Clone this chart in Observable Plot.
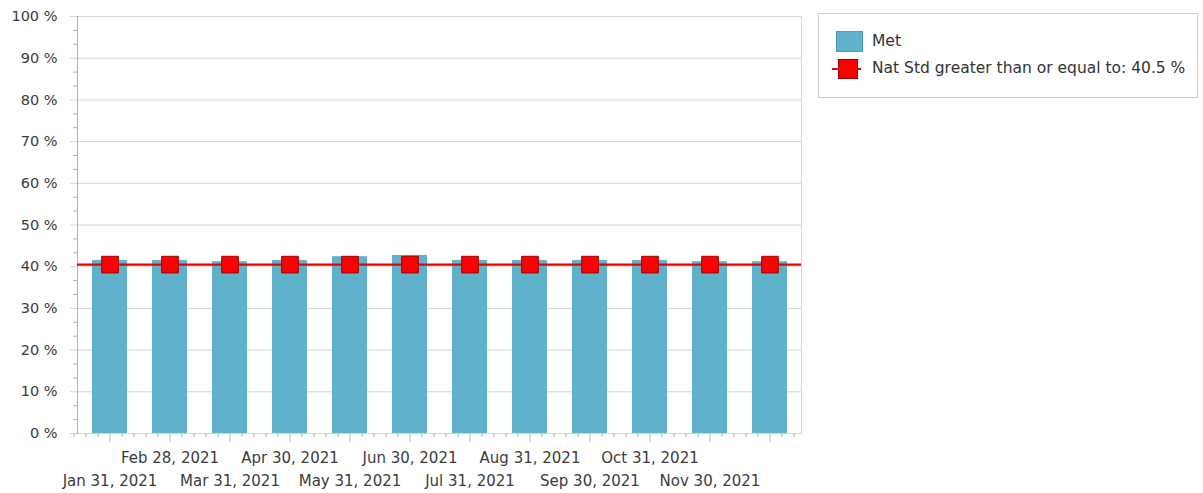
<!DOCTYPE html>
<html>
<head>
<meta charset="utf-8">
<script src="https://cdn.jsdelivr.net/npm/d3@7"></script>
<script src="https://cdn.jsdelivr.net/npm/@observablehq/plot@0.6"></script>
<style>
  html, body { margin: 0; padding: 0; background: #fff; }
  #wrap { position: relative; width: 1203px; height: 493px; font-family: "DejaVu Sans", sans-serif; }
  #legend { position: absolute; left: 818px; top: 13px; width: 380px; height: 85px; border: 1px solid #cfcfcf; box-sizing: border-box; font-size: 15.5px; color: #333; }
  .row { position: absolute; left: 0; height: 22px; display: flex; align-items: center; }
  .lbl { position: absolute; left: 53px; white-space: nowrap; }
</style>
</head>
<body>
<div id="wrap"></div>
<script>
const months = ["Jan 31, 2021", "Feb 28, 2021", "Mar 31, 2021", "Apr 30, 2021", "May 31, 2021", "Jun 30, 2021",
                "Jul 31, 2021", "Aug 31, 2021", "Sep 30, 2021", "Oct 31, 2021", "Nov 30, 2021", "Dec 31, 2021"];
const met = [41.5, 41.5, 41.2, 41.5, 42.4, 42.7, 41.5, 41.5, 41.5, 41.5, 41.2, 41.2];
const natStd = [40.5, 40.5, 40.5, 40.5, 40.5, 40.5, 40.5, 40.5, 40.5, 40.5, 40.5, 40.5];
const yTicks = [0, 10, 20, 30, 40, 50, 60, 70, 80, 90, 100];
const yMinorTicks = d3.range(0, 100.01, 10 / 3).filter(v => Math.abs(v / 10 - Math.round(v / 10)) > 0.01);
const labelsUpper = ["Feb 28, 2021", "Apr 30, 2021", "Jun 30, 2021", "Aug 31, 2021", "Oct 31, 2021"];
const labelsLower = ["Jan 31, 2021", "Mar 31, 2021", "May 31, 2021", "Jul 31, 2021", "Sep 30, 2021", "Nov 30, 2021"];
const legendMet = "Met";
const legendStd = "Nat Std greater than or equal to: 40.5 %";

const data = months.map((m, i) => ({month: m, met: met[i], std: natStd[i]}));

const axisColor = "#b4b4b4";
const gridColor = "#d6d6d6";
const textColor = "#3c3c3c";

const minorOffsets = [-24, -12, 12, 24];

const chart = Plot.plot({
  width: 810,
  height: 493,
  marginLeft: 77,
  marginRight: 9,
  marginTop: 16,
  marginBottom: 60,
  style: {fontFamily: "DejaVu Sans, sans-serif", fontSize: "15px", color: textColor, background: "transparent", overflow: "visible"},
  x: {type: "band", domain: months, paddingInner: 0.418, paddingOuter: 0.234, axis: null},
  y: {domain: [0, 100], axis: null},
  marks: [
    Plot.gridY(yTicks, {stroke: gridColor, strokeOpacity: 1}),
    Plot.axisY({ticks: yTicks, label: null, tickSize: 7, tickPadding: 13, stroke: gridColor, strokeOpacity: 1, tickFormat: d => d + " %", fill: textColor, fontSize: 14.5}),
    Plot.axisY({ticks: yMinorTicks, label: null, tickSize: 4, stroke: axisColor, strokeOpacity: 1, tickFormat: () => ""}),
    Plot.frame({anchor: "left", stroke: axisColor}),
    Plot.frame({anchor: "right", stroke: gridColor}),
    Plot.barY(data, {x: "month", y: "met", fill: "#60b2cb"}),
    Plot.ruleY([natStd[0]], {stroke: "#ee0000", strokeWidth: 2.2}),
    Plot.dot(data, {x: "month", y: "std", symbol: "square", r: 9.4, fill: "#ff0000", stroke: "#a00000", strokeWidth: 1}),
    Plot.axisX({ticks: months, label: null, tickSize: 9, stroke: axisColor, strokeOpacity: 1, tickFormat: () => ""}),
    ...minorOffsets.map(o => Plot.axisX({ticks: months, label: null, tickSize: 4, dx: o, stroke: axisColor, strokeOpacity: 1, tickFormat: () => ""})),
    Plot.axisX({ticks: [months[0]], label: null, tickSize: 4, dx: -36, stroke: axisColor, strokeOpacity: 1, tickFormat: () => ""}),
    Plot.text(labelsUpper, {x: d => d, frameAnchor: "bottom", dy: 25, lineAnchor: "middle", fill: textColor, fontSize: 15}),
    Plot.text(labelsLower, {x: d => d, frameAnchor: "bottom", dy: 48, lineAnchor: "middle", fill: textColor, fontSize: 15})
  ]
});

const wrap = document.getElementById("wrap");
wrap.appendChild(chart);

const legend = document.createElement("div");
legend.id = "legend";
legend.innerHTML = `
  <div class="row" style="top:17px;width:370px;">
    <div style="position:absolute;left:17px;top:0;width:27px;height:21px;background:#60b2cb;border:1px solid #4c9cb6;box-sizing:border-box;"></div>
    <span class="lbl" style="top:1px;">${legendMet}</span>
  </div>
  <div class="row" style="top:44px;width:370px;">
    <div style="position:absolute;left:13px;top:10px;width:29px;height:2px;background:#ee0000;"></div>
    <div style="position:absolute;left:19px;top:1px;width:20px;height:20px;background:#ff0000;border:1px solid #a00000;box-sizing:border-box;"></div>
    <span class="lbl" style="top:1px;">${legendStd}</span>
  </div>`;
wrap.appendChild(legend);
</script>
</body>
</html>
